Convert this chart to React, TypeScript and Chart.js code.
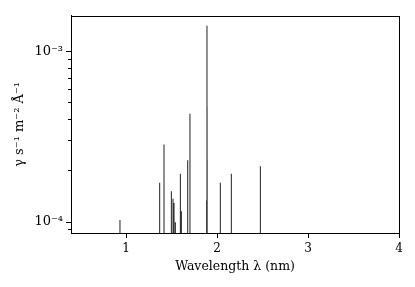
import React, { useEffect, useRef } from "react";
import { Chart, registerables } from "chart.js";

Chart.register(...registerables);

// Spectral lines: wavelength (nm) and flux
const wavelengths = [0.934, 1.37, 1.418, 1.499, 1.517, 1.528, 1.543, 1.598, 1.609, 1.678, 1.703, 1.886, 1.89, 1.891, 1.892, 2.037, 2.158, 2.477];
const intensities = [1.02e-4, 1.69e-4, 2.83e-4, 1.505e-4, 1.36e-4, 1.285e-4, 0.99e-4, 1.91e-4, 1.15e-4, 2.29e-4, 4.3e-4, 1.33e-4, 1.41e-3, 4.7e-4, 2.3e-4, 1.69e-4, 1.91e-4, 2.11e-4];

const xTicks = [1, 2, 3, 4];
const yMajorTicks = [1e-4, 1e-3];
const yMinorTicks = [9e-5, 2e-4, 3e-4, 4e-4, 5e-4, 6e-4, 7e-4, 8e-4, 9e-4];
const yTickLabels: Record<string, string> = { "0.0001": "10\u207B\u2074", "0.001": "10\u207B\u00B3" };

const xMin = 0.396;
const xMax = 4;
const yMin = 8.57e-5;
const yMax = 1.613e-3;

const FONT = "'DejaVu Serif', serif";

const tickPlugin = {
  id: "manualTicks",
  afterDraw(chart: any) {
    const { ctx, chartArea } = chart;
    const xs = chart.scales.x;
    const ys = chart.scales.y;
    ctx.save();
    ctx.strokeStyle = "#000";
    ctx.lineWidth = 1;
    ctx.strokeRect(Math.round(chartArea.left) + 0.5, Math.round(chartArea.top) + 0.5,
      Math.round(chartArea.right - chartArea.left), Math.round(chartArea.bottom - chartArea.top));
    ctx.beginPath();
    const drawY = (v: number, len: number) => {
      const y = Math.round(ys.getPixelForValue(v)) + 0.5;
      ctx.moveTo(chartArea.left - len, y);
      ctx.lineTo(chartArea.left, y);
    };
    yMajorTicks.forEach((v) => drawY(v, 5));
    yMinorTicks.forEach((v) => drawY(v, 3));
    xTicks.forEach((v) => {
      const x = Math.round(xs.getPixelForValue(v)) + 0.5;
      ctx.moveTo(x, chartArea.bottom);
      ctx.lineTo(x, chartArea.bottom + 5);
    });
    ctx.stroke();
    ctx.restore();
  },
};

export default function App() {
  const ref = useRef<HTMLCanvasElement>(null);
  useEffect(() => {
    const data: any[] = [];
    wavelengths.forEach((w, i) => {
      data.push({ x: w, y: yMin });
      data.push({ x: w, y: intensities[i] });
      data.push({ x: w, y: null });
    });
    const chart = new Chart(ref.current!, {
      type: "scatter",
      data: {
        datasets: [
          {
            data,
            showLine: true,
            spanGaps: false,
            borderColor: "rgba(0,0,0,0.8)",
            borderWidth: 1.1,
            pointRadius: 0,
          },
        ],
      },
      options: {
        animation: false,
        responsive: false,
        layout: { padding: { top: 15, right: 16, left: 0, bottom: 0 } },
        plugins: { legend: { display: false }, tooltip: { enabled: false } },
        scales: {
          x: {
            type: "linear",
            min: xMin,
            max: xMax,
            afterBuildTicks: (s: any) => {
              s.ticks = xTicks.map((v) => ({ value: v }));
            },
            afterFit: (s: any) => {
              s.height = 54;
            },
            grid: { display: true, drawOnChartArea: false, drawTicks: false },
            border: { display: true, color: "#000" },
            ticks: {
              padding: 9,
              color: "#000",
              font: { family: FONT, size: 12 },
              maxRotation: 0,
              callback: (v: any) => String(v),
            },
            title: {
              display: true,
              text: "Wavelength \u03BB (nm)",
              color: "#000",
              font: { family: FONT, size: 12.5 },
              padding: { top: 0, bottom: 13 },
            },
          },
          y: {
            type: "logarithmic",
            min: yMin,
            max: yMax,
            afterBuildTicks: (s: any) => {
              s.ticks = [...yMinorTicks, ...yMajorTicks].sort((a, b) => a - b).map((v) => ({ value: v }));
            },
            afterFit: (s: any) => {
              s.width = 71;
            },
            grid: { display: true, drawOnChartArea: false, drawTicks: false },
            border: { display: true, color: "#000" },
            ticks: {
              padding: 8,
              color: "#000",
              autoSkip: false,
              font: { family: FONT, size: 13 },
              callback: (v: any) => yTickLabels[String(v)] ?? "",
            },
            title: {
              display: true,
              text: "\u03B3 s\u207B\u00B9 m\u207B\u00B2 \u00C5\u207B\u00B9",
              color: "#000",
              font: { family: FONT, size: 13 },
              padding: { top: 12, bottom: 0 },
            },
          },
        },
      },
      plugins: [tickPlugin],
    });
    return () => chart.destroy();
  }, []);
  return (
    <div style={{ position: "absolute", left: 0, top: 0, width: 415, height: 287, background: "#fff" }}>
      <canvas ref={ref} width={415} height={287} />
    </div>
  );
}
